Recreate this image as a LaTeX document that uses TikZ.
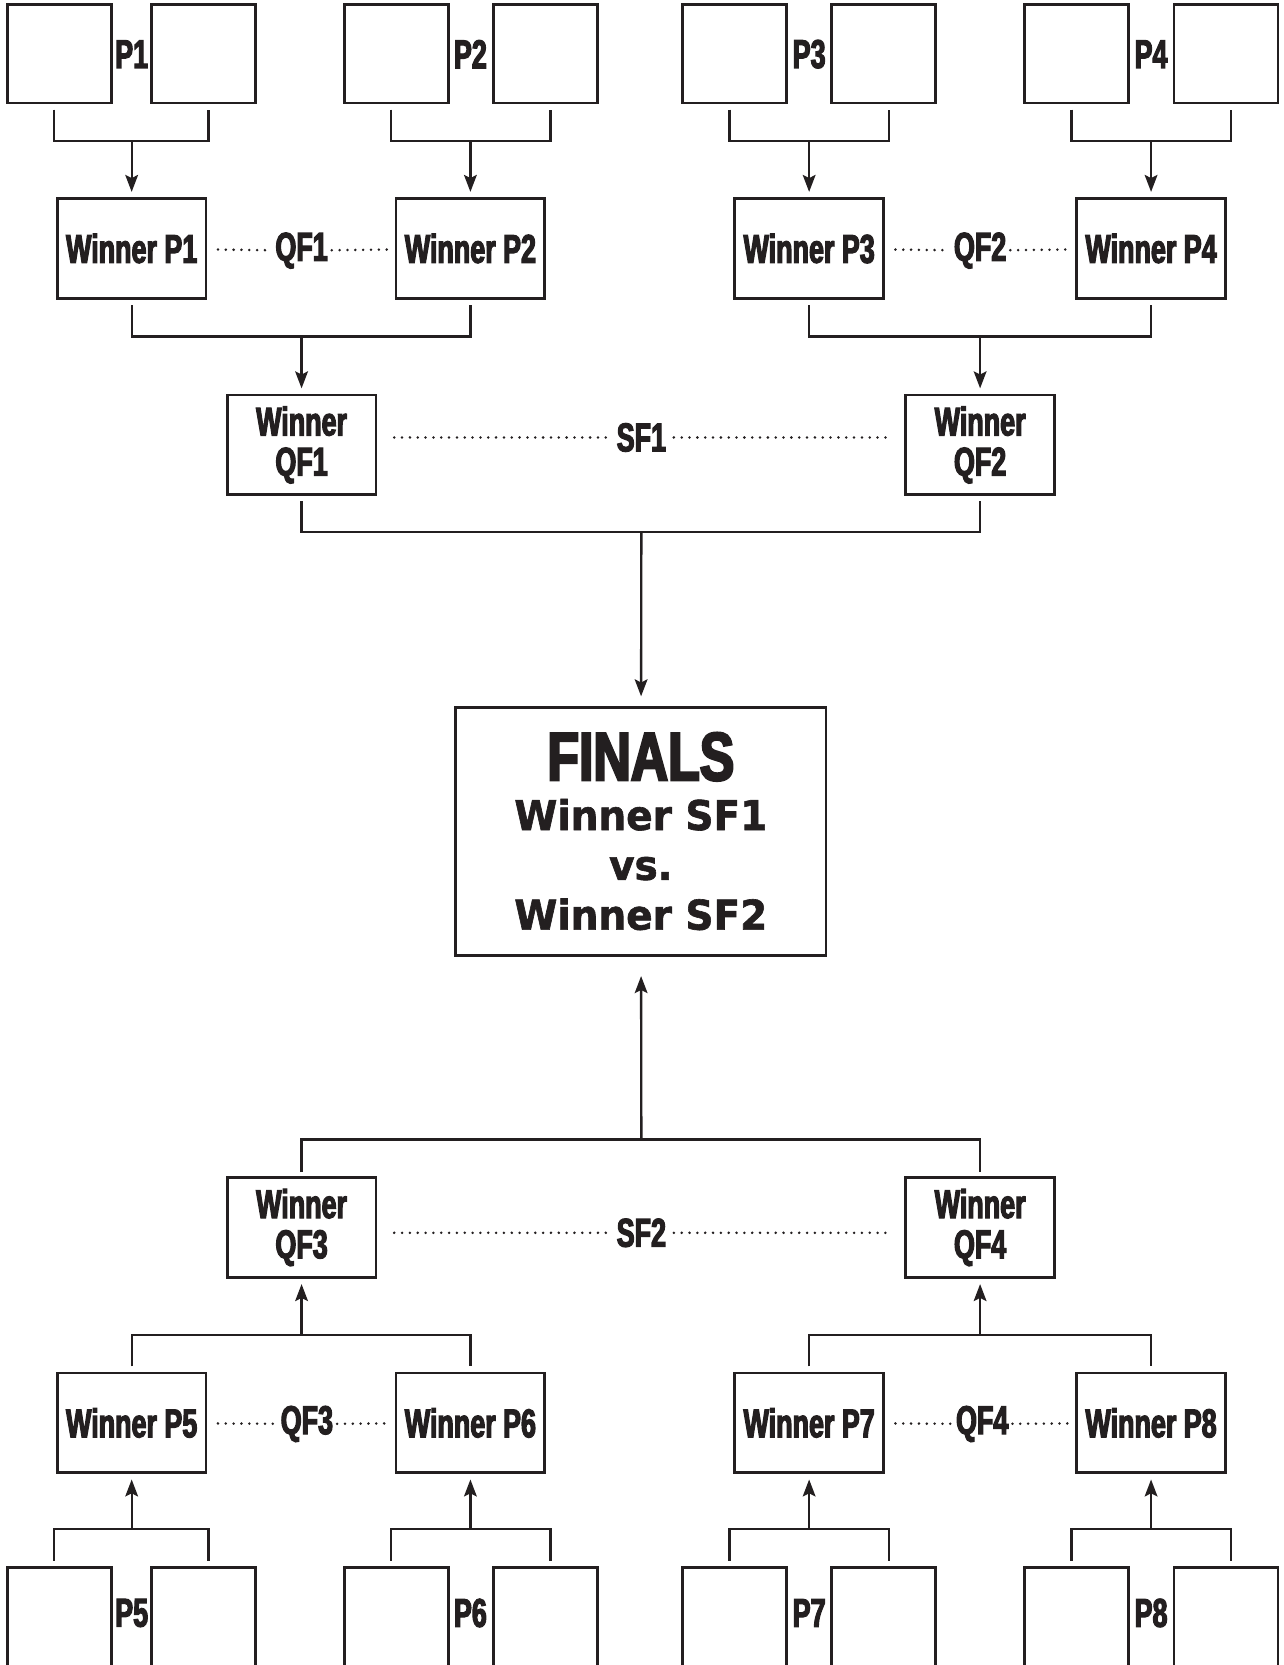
\documentclass[tikz,border=0pt]{standalone}
\usepackage{fontspec}
\usetikzlibrary{arrows.meta,positioning,calc}
\definecolor{inkBlack}{HTML}{231F20}
\newfontfamily\condFont{Liberation Sans}[FakeStretch=0.67,FakeBold=3]
\newfontfamily\finalsFont{Liberation Sans}[FakeStretch=0.76,FakeBold=3.5]
\newfontfamily\wideFont{DejaVu Sans}[FakeStretch=0.95,FakeBold=1.5]

\begin{document}
\begin{tikzpicture}[
  x=0.02cm, y=-0.02cm,
  seat/.style={rectangle, draw=inkBlack, line width=1.45pt, minimum width=1.96cm, minimum height=1.86cm, inner sep=0pt},
  winner/.style={rectangle, draw=inkBlack, line width=1.45pt, minimum width=2.8cm, minimum height=1.88cm, inner sep=0pt, align=center, text=inkBlack, font=\condFont\bfseries\fontsize{21.5}{21.5}\selectfont},
  final/.style={rectangle, draw=inkBlack, line width=1.45pt, minimum width=6.98cm, minimum height=4.68cm, align=center, text=inkBlack, font=\wideFont\bfseries\fontsize{22}{26.7}\selectfont},
  tag/.style={inner sep=2pt, text=inkBlack, font=\condFont\bfseries\fontsize{21.5}{21.5}\selectfont},
  link/.style={draw=inkBlack, line width=1.25pt},
  arrow/.style={-{Stealth[length=3.2mm,width=2.4mm,inset=0.6mm]}, line width=1.25pt, draw=inkBlack, shorten >=0.1cm},
  dots/.style={draw=inkBlack, line width=1.5pt, line cap=round, dash pattern=on 0pt off 4.2pt}
]
\useasboundingbox (0,0) rectangle (1209,1568);

% top pairs
\node[seat] (p1a) at (56,50.5) {};
\node[seat] (p1b) at (191.5,50.5) {};
\node[tag] (lp1) at (124,51) {P1};
\node[seat] (p2a) at (373.5,50.5) {};
\node[seat] (p2b) at (513.5,50.5) {};
\node[tag] (lp2) at (443,51) {P2};
\node[seat] (p3a) at (692,50.5) {};
\node[seat] (p3b) at (832,50.5) {};
\node[tag] (lp3) at (762,51) {P3};
\node[seat] (p4a) at (1014,50.5) {};
\node[seat] (p4b) at (1154.5,50.5) {};
\node[tag] (lp4) at (1084,51) {P4};

% bottom pairs
\node[seat] (p5a) at (56,1522.5) {};
\node[seat] (p5b) at (191.5,1522.5) {};
\node[tag] (lp5) at (124,1519) {P5};
\node[seat] (p6a) at (373.5,1522.5) {};
\node[seat] (p6b) at (513.5,1522.5) {};
\node[tag] (lp6) at (443,1519) {P6};
\node[seat] (p7a) at (692,1522.5) {};
\node[seat] (p7b) at (832,1522.5) {};
\node[tag] (lp7) at (762,1519) {P7};
\node[seat] (p8a) at (1014,1522.5) {};
\node[seat] (p8b) at (1154.5,1522.5) {};
\node[tag] (lp8) at (1084,1519) {P8};

% quarter finals
\node[winner] (wp1) at (124,234) {Winner P1};
\node[winner] (wp2) at (443,234) {Winner P2};
\node[winner] (wp3) at (762,234) {Winner P3};
\node[winner] (wp4) at (1084,234) {Winner P4};
\node[tag] (qf1) at (284,236) {QF1};
\node[tag] (qf2) at (923,236) {QF2};
\node[winner] (wp5) at (124,1340) {Winner P5};
\node[winner] (wp6) at (443,1340) {Winner P6};
\node[winner] (wp7) at (762,1340) {Winner P7};
\node[winner] (wp8) at (1084,1340) {Winner P8};
\node[tag] (qf3) at (289,1341) {QF3};
\node[tag] (qf4) at (925,1341) {QF4};

% semi finals
\node[winner] (wqf1) at (284,419) {Winner\\QF1};
\node[winner] (wqf2) at (923,419) {Winner\\QF2};
\node[tag, inner sep=4pt] (sf1) at (604,412) {SF1};
\node[winner] (wqf3) at (284,1156) {Winner\\QF3};
\node[winner] (wqf4) at (923,1156) {Winner\\QF4};
\node[tag, inner sep=4pt] (sf2) at (604,1161) {SF2};

% finals
\node[final] (finals) at (603.5,783) {{\finalsFont\bfseries\fontsize{36.5}{26.7}\selectfont FINALS}\\Winner SF1\\vs.\\Winner SF2};

% junctions
\coordinate (j1) at (124,133);
\coordinate (j2) at (443,133);
\coordinate (j3) at (762,133);
\coordinate (j4) at (1084,133);
\coordinate (j5) at (124,1440);
\coordinate (j6) at (443,1440);
\coordinate (j7) at (762,1440);
\coordinate (j8) at (1084,1440);
\coordinate (k1) at (284,317);
\coordinate (k2) at (923,317);
\coordinate (k3) at (284,1257);
\coordinate (k4) at (923,1257);
\coordinate (m1) at (604,501);
\coordinate (m2) at (604,1073);

% pairs to winners
\draw[link] ([xshift=-1mm,yshift=-1mm]p1a.south) |- (j1) -| ([xshift=1mm,yshift=-1mm]p1b.south);
\draw[link] ([xshift=-1mm,yshift=-1mm]p2a.south) |- (j2) -| ([xshift=1mm,yshift=-1mm]p2b.south);
\draw[link] ([xshift=-1mm,yshift=-1mm]p3a.south) |- (j3) -| ([xshift=1mm,yshift=-1mm]p3b.south);
\draw[link] ([xshift=-1mm,yshift=-1mm]p4a.south) |- (j4) -| ([xshift=1mm,yshift=-1mm]p4b.south);
\draw[link] ([xshift=-1mm,yshift=1mm]p5a.north) |- (j5) -| ([xshift=1mm,yshift=1mm]p5b.north);
\draw[link] ([xshift=-1mm,yshift=1mm]p6a.north) |- (j6) -| ([xshift=1mm,yshift=1mm]p6b.north);
\draw[link] ([xshift=-1mm,yshift=1mm]p7a.north) |- (j7) -| ([xshift=1mm,yshift=1mm]p7b.north);
\draw[link] ([xshift=-1mm,yshift=1mm]p8a.north) |- (j8) -| ([xshift=1mm,yshift=1mm]p8b.north);
\draw[arrow] (j1) -- (wp1);
\draw[arrow] (j2) -- (wp2);
\draw[arrow] (j3) -- (wp3);
\draw[arrow] (j4) -- (wp4);
\draw[arrow] (j5) -- (wp5);
\draw[arrow] (j6) -- (wp6);
\draw[arrow] (j7) -- (wp7);
\draw[arrow] (j8) -- (wp8);

% winners to semi finals
\draw[link] ([yshift=-1mm]wp1.south) |- (k1) -| ([yshift=-1mm]wp2.south);
\draw[link] ([yshift=-1mm]wp3.south) |- (k2) -| ([yshift=-1mm]wp4.south);
\draw[link] ([yshift=1mm]wp5.north) |- (k3) -| ([yshift=1mm]wp6.north);
\draw[link] ([yshift=1mm]wp7.north) |- (k4) -| ([yshift=1mm]wp8.north);
\draw[arrow] (k1) -- (wqf1);
\draw[arrow] (k2) -- (wqf2);
\draw[arrow] (k3) -- (wqf3);
\draw[arrow] (k4) -- (wqf4);

% semi finals to finals
\draw[link] ([yshift=-1mm]wqf1.south) |- (m1) -| ([yshift=-1mm]wqf2.south);
\draw[link] ([yshift=0.8mm]wqf3.north) |- (m2) -| ([yshift=0.8mm]wqf4.north);
\draw[arrow, shorten >=0.18cm] (m1) -- (finals);
\draw[arrow, shorten >=0.36cm] (m2) -- (finals);

% match lines
\draw[dots, shorten <=0.2cm] (wp1) -- (qf1);
\draw[dots, shorten >=0.15cm] (qf1) -- (wp2);
\draw[dots, shorten <=0.2cm] (wp3) -- (qf2);
\draw[dots, shorten >=0.15cm] (qf2) -- (wp4);
\draw[dots, shorten <=0.2cm] (wp5) -- (qf3);
\draw[dots, shorten >=0.15cm] (qf3) -- (wp6);
\draw[dots, shorten <=0.2cm] (wp7) -- (qf4);
\draw[dots, shorten >=0.15cm] (qf4) -- (wp8);
\draw[dots, shorten <=0.32cm] (wqf1.east |- sf1) -- (sf1);
\draw[dots, shorten >=0.26cm] (sf1) -- (wqf2.west |- sf1);
\draw[dots, shorten <=0.32cm] (wqf3.east |- sf2) -- (sf2);
\draw[dots, shorten >=0.26cm] (sf2) -- (wqf4.west |- sf2);
\end{tikzpicture}
\end{document}
